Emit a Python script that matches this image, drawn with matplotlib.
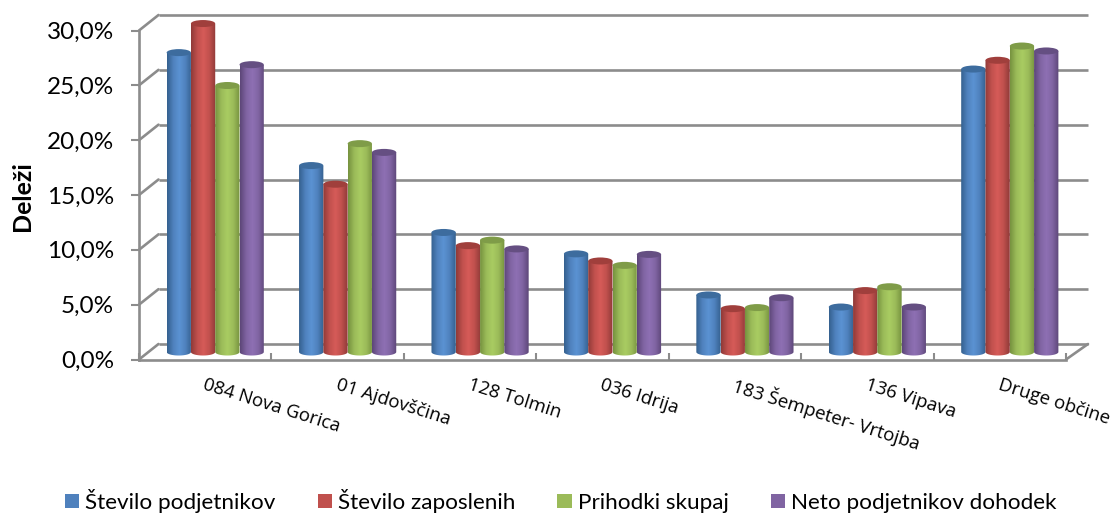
import matplotlib
matplotlib.use("Agg")
import matplotlib.pyplot as plt
import numpy as np
from matplotlib.colors import LinearSegmentedColormap
from matplotlib.patches import ConnectionPatch, Ellipse, Patch, PathPatch
from matplotlib.path import Path

plt.rcParams['font.family'] = ['Lato', 'DejaVu Sans']

obcine = ["084 Nova Gorica", "01 Ajdovščina", "128 Tolmin", "036 Idrija",
          "183 Šempeter- Vrtojba", "136 Vipava", "Druge občine"]
serije = ["Število podjetnikov", "Število zaposlenih", "Prihodki skupaj", "Neto podjetnikov dohodek"]
podjetniki = [27.3, 17.0, 10.9, 8.95, 5.2, 4.1, 25.8]
zaposleni = [29.95, 15.3, 9.7, 8.3, 3.95, 5.6, 26.6]
prihodki = [24.3, 19.0, 10.2, 7.9, 4.05, 5.95, 27.9]
dohodek = [26.2, 18.2, 9.4, 8.9, 4.95, 4.1, 27.45]
vrednosti = [podjetniki, zaposleni, prihodki, dohodek]
yticks = [0, 5, 10, 15, 20, 25, 30]
yticklabels = ["0,0%", "5,0%", "10,0%", "15,0%", "20,0%", "25,0%", "30,0%"]

barve = ["#4f81bd", "#c0504d", "#9bbb59", "#8064a2"]
temne = ["#35618f", "#8f3a38", "#76923f", "#5c4678"]
svetle = ["#5b93d3", "#d65b58", "#a9cc62", "#8e70b4"]
vrh = ["#3d6c9e", "#a03f3c", "#7f9c48", "#654f82"]

W, H = 1113, 514
siva = "#8c8c8c"


def naredi_os(x0, x1, y0, y30, zorder):
    # y0 and y30 are pixel rows of 0 % and 30 %, from the top of the image
    ax = fig.add_axes([x0 / W, 1 - y0 / H, (x1 - x0) / W, (y0 - y30) / H])
    ax.set_xlim(-0.5, 6.5)
    ax.set_ylim(0, 30)
    ax.patch.set_alpha(0)
    ax.set_zorder(zorder)
    return ax


fig = plt.figure(figsize=(W / 100, H / 100), dpi=100)

# back wall
ax_zadaj = naredi_os(158.5, 1088, 344, 15, 1)
ax_zadaj.axis("off")
for v in yticks:
    ax_zadaj.plot([-0.5, 6.5], [v, v], color=siva, lw=1.9, clip_on=False, solid_capstyle="butt")

# front axis with ticks
ax = naredi_os(139, 1066, 359.5, 30.5, 2)
for s in ["top", "right"]:
    ax.spines[s].set_visible(False)
for s in ["left", "bottom"]:
    ax.spines[s].set_color(siva)
    ax.spines[s].set_linewidth(1.9)
ax.set_yticks(yticks)
ax.set_yticklabels(yticklabels, fontsize=17.5, color="black")
ax.tick_params(axis="y", length=6, width=1.5, color=siva, pad=12)
ax.set_xticks(np.arange(-0.5, 7.5, 1))
ax.set_xticklabels([])
ax.tick_params(axis="x", direction="in", length=5, width=1.5, color=siva)
ax.set_ylabel("Deleži", fontsize=18, fontweight="bold")
ax.yaxis.label.set_va("center")
ax.yaxis.set_label_coords(-0.126, 0.497)

for v in yticks:
    ax_zadaj.add_artist(ConnectionPatch((-0.5, v), (-0.5, v), "data", "data", axesA=ax_zadaj, axesB=ax,
                                        color=siva, lw=1.9, clip_on=False))
ax_zadaj.add_artist(ConnectionPatch((6.5, 0), (6.5, 0), "data", "data", axesA=ax_zadaj, axesB=ax,
                                    color=siva, lw=1.9, clip_on=False))

for i, ime in enumerate(obcine):
    ax.annotate(ime, (i, 0), xycoords="data", xytext=(-1, -18), textcoords="offset points",
                rotation=-17.5, rotation_mode="anchor", ha="left", va="center", fontsize=13.4,
                family=["Open Sans", "DejaVu Sans"], annotation_clip=False)

# cylinders
ax_st = naredi_os(149, 1076, 352, 23, 3)
ax_st.axis("off")
sirina = 24.3 / 132.45
visina = 0.32

for s, serija in enumerate(vrednosti):
    x = np.arange(len(obcine)) + (s - 1.5) * sirina
    stolpci = ax_st.bar(x, serija, sirina, color=barve[s], linewidth=0)
    cmap = LinearSegmentedColormap.from_list("c", [temne[s], barve[s], svetle[s], barve[s], temne[s]])
    gradient = cmap(np.linspace(0, 1, 64))[np.newaxis, :, :]
    for r in stolpci:
        levo, v, sr = r.get_x(), r.get_height(), r.get_x() + r.get_width() / 2
        t = np.linspace(np.pi, 2 * np.pi, 30)
        tocke = [(levo, v)] + list(zip(sr + sirina / 2 * np.cos(t), visina * np.sin(t))) + [(levo + sirina, v), (levo, v)]
        oblika = PathPatch(Path(tocke), transform=ax_st.transData, facecolor="none", edgecolor="none",
                           clip_on=False)
        ax_st.add_patch(oblika)
        r.set_visible(False)
        slika = ax_st.imshow(gradient, extent=(levo, levo + sirina, -visina, v), aspect="auto",
                             zorder=3 + s * 0.1, interpolation="bilinear")
        slika.set_clip_box(fig.bbox)
        slika.set_clip_path(oblika)
        ax_st.add_patch(Ellipse((sr, v), sirina, 2 * visina, facecolor=vrh[s], edgecolor="none",
                                zorder=3.01 + s * 0.1, clip_on=False))
ax_st.set_xlim(-0.5, 6.5)
ax_st.set_ylim(0, 30)

roke = [Patch(facecolor=b, edgecolor="none") for b in barve]
fig.legend(roke, serije, ncol=4, loc="lower left", bbox_to_anchor=(65 / W, 1 / H), frameon=False,
           fontsize=16.2, handlelength=0.63, handleheight=0.63, handletextpad=0.27, columnspacing=1.87,
           borderpad=0, borderaxespad=0)

fig.savefig("out.png", dpi=100)
